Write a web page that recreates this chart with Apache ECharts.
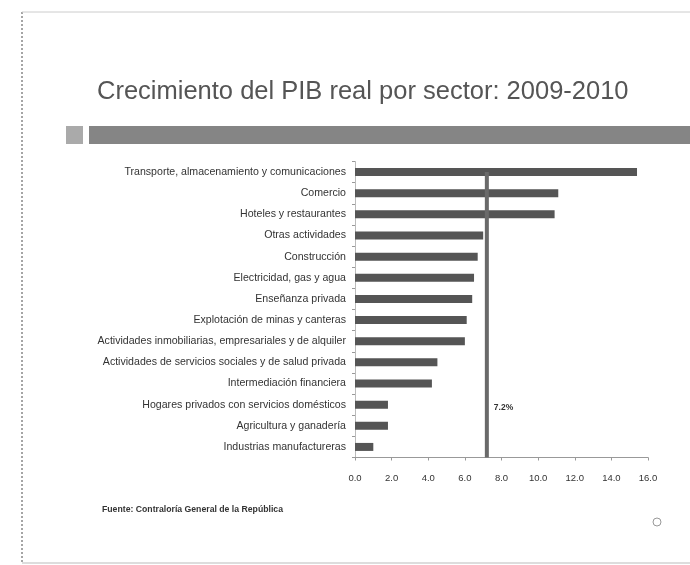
<!DOCTYPE html>
<html><head><meta charset="utf-8">
<script src="https://cdn.jsdelivr.net/npm/echarts@6/dist/echarts.min.js"></script>
<style>html,body{margin:0;padding:0;background:#fff}#c{width:690px;height:565px}</style>
</head><body><div id="c"></div>
<script>
const categories = [
  'Transporte, almacenamiento y comunicaciones',
  'Comercio',
  'Hoteles y restaurantes',
  'Otras actividades',
  'Construcción',
  'Electricidad, gas y agua',
  'Enseñanza privada',
  'Explotación de minas y canteras',
  'Actividades inmobiliarias, empresariales y de alquiler',
  'Actividades de servicios sociales y de salud privada',
  'Intermediación financiera',
  'Hogares privados con servicios domésticos',
  'Agricultura y ganadería',
  'Industrias manufactureras'
];
const growth = [15.4, 11.1, 10.9, 7.0, 6.7, 6.5, 6.4, 6.1, 6.0, 4.5, 4.2, 1.8, 1.8, 1.0];
const totalGrowth = 7.2;
const totalLabel = '7.2%';
const xTicks = ['0.0','2.0','4.0','6.0','8.0','10.0','12.0','14.0','16.0'];
const titleText = 'Crecimiento del PIB real por sector: 2009-2010';
const sourceText = 'Fuente: Contraloría General de la República';

const chart = echarts.init(document.getElementById('c'));
chart.setOption({
  animation: false,
  backgroundColor: '#fff',
  title: {
    text: titleText, left: 92, top: 74,
    textStyle: { fontFamily: 'Liberation Sans, Arial', fontSize: 25.5, fontWeight: 'normal', color: '#555' }
  },
  graphic: [
    { type: 'line', shape: { x1: 22, y1: 12, x2: 22, y2: 564 }, style: { stroke: '#888', lineWidth: 1.5, lineDash: [2, 2] } },
    { type: 'line', shape: { x1: 22, y1: 12, x2: 690, y2: 12 }, style: { stroke: '#ccc', lineWidth: 1 } },
    { type: 'line', shape: { x1: 22, y1: 563, x2: 690, y2: 563 }, style: { stroke: '#bbb', lineWidth: 1 } },
    { type: 'rect', shape: { x: 66, y: 126, width: 17, height: 18 }, style: { fill: '#aaa' } },
    { type: 'rect', shape: { x: 89, y: 126, width: 601, height: 18 }, style: { fill: '#858585' } },
    { type: 'text', left: 102, top: 505, style: { text: sourceText, font: 'bold 8.7px Liberation Sans, Arial', fill: '#333' } },
    { type: 'circle', shape: { cx: 657, cy: 522, r: 4 }, style: { fill: 'none', stroke: '#999', lineWidth: 1 } }
  ],
  grid: { left: 355, right: 42, top: 161.5, bottom: 107.5 },
  xAxis: {
    type: 'value', min: 0, max: 16, interval: 2,
    splitLine: { show: false },
    axisLine: { show: true, lineStyle: { color: '#999' } },
    axisTick: { show: true, length: 3, lineStyle: { color: '#999' } },
    axisLabel: {
      margin: 16, fontSize: 9.5, color: '#333', fontFamily: 'Liberation Sans, Arial',
      formatter: (v) => xTicks[Math.round(v / 2)]
    }
  },
  yAxis: {
    type: 'category', data: categories, inverse: true,
    axisLine: { show: true, lineStyle: { color: '#bbb' } },
    axisTick: { show: true, length: 3, lineStyle: { color: '#999' } },
    axisLabel: { margin: 9, fontSize: 10.6, color: '#333', fontFamily: 'Liberation Sans, Arial' }
  },
  series: [
    {
      type: 'bar', data: growth, barWidth: 8,
      itemStyle: { color: '#555' }, z: 2
    },
    {
      type: 'custom', z: 5,
      data: [[totalGrowth]],
      renderItem: function (params, api) {
        const x = api.coord([api.value(0), 0])[0];
        const top = api.coord([api.value(0), 0])[1];
        const cs = params.coordSys;
        const lblY = api.coord([api.value(0), 11])[1];
        return {
          type: 'group',
          children: [
            { type: 'rect', shape: { x: x - 2, y: top, width: 4, height: cs.y + cs.height - top }, style: { fill: '#6a6a6a' } },
            { type: 'text', style: { x: x + 7, y: lblY + 3, text: totalLabel, font: 'bold 8.5px Liberation Sans, Arial', fill: '#333', textVerticalAlign: 'middle' } }
          ]
        };
      }
    }
  ]
});
</script>
</body></html>
